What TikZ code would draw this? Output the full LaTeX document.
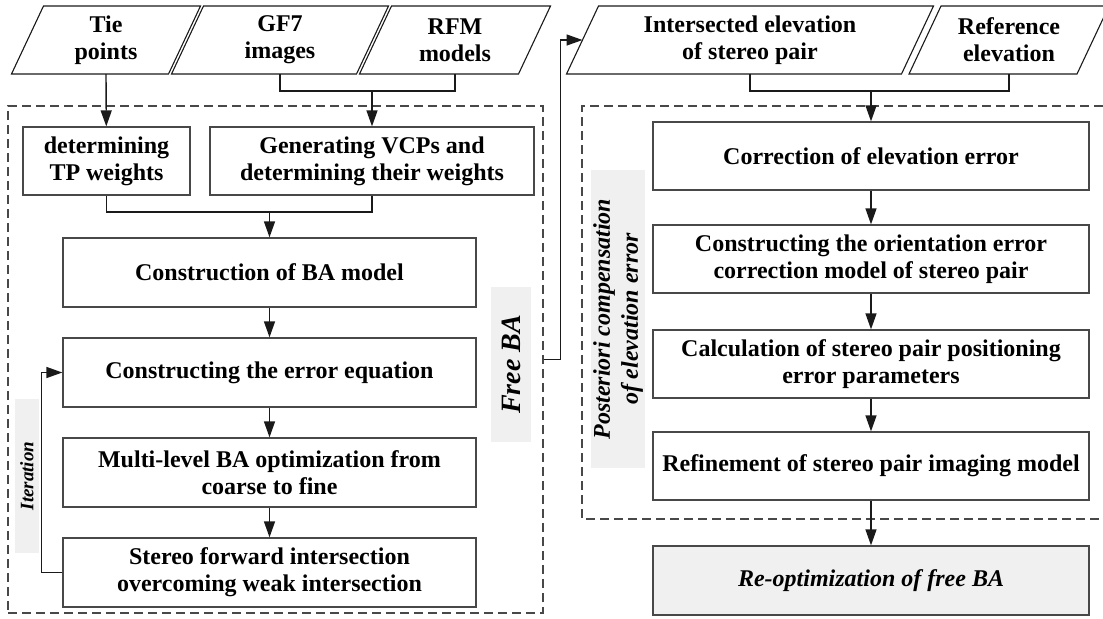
\documentclass[tikz,border=0pt]{standalone}
\usepackage{fontspec}
\setmainfont{Liberation Serif}
\usetikzlibrary{arrows.meta}

\definecolor{edgegray}{HTML}{484848}
\definecolor{fillgray}{HTML}{F0F0F0}
\definecolor{linedark}{HTML}{1A1A1A}

\tikzset{
 procbox/.style={draw=edgegray, line width=0.65pt, fill=white, align=center,
   inner sep=2pt, font=\fontsize{12}{13.5}\selectfont\bfseries},
 databox/.style={draw=linedark, line width=0.55pt},
 datatext/.style={align=center, inner sep=0pt, font=\fontsize{12}{13.5}\selectfont\bfseries},
 groupframe/.style={draw=edgegray, line width=0.55pt, dash pattern=on 4.5pt off 2.5pt},
 tagbox/.style={fill=fillgray, rotate=90, inner sep=0pt, align=center},
 link/.style={draw=linedark, line width=0.7pt},
 flow/.style={link, -{Triangle[length=8pt,width=5.5pt]}},
}

\begin{document}
\begin{tikzpicture}[x=0.5pt, y=-0.5pt]
\useasboundingbox (0,0) rectangle (1103,618);

\newcommand{\datain}[4] % [name][x][width][text]
{
 \draw[databox] ({#2-#3/2-16},74) -- ++(#3,0) -- ++(32,-68) -- ++(-#3,0) -- cycle;
 \node[datatext] (#1) at (#2,40) {#4};
 \coordinate (#1-b) at (#2,74);
 \coordinate (#1-w) at ({#2-#3/2},40);
}

\def\lw{206.5pt} \def\rw{218pt}
\def\bh{34.5pt}

% inputs
\datain{tie}{106}{157}{Tie\\points}
\datain{gf7}{280}{185}{GF7\\images}
\datain{rfm}{455}{159}{RFM\\models}
\datain{inter}{750}{335}{Intersected elevation\\of stereo pair}
\datain{refel}{1009}{168}{Reference\\elevation}

% frames and tags
\node[groupframe, minimum width=267.5pt, minimum height=253.5pt] (freeframe) at (275.5,359.5) {};
\draw[groupframe] (1103,106) -| (582,519) -- (1103,519);

\node[tagbox, minimum width=77pt, minimum height=12pt,
  font=\fontsize{9.5}{11}\selectfont\bfseries\itshape] (itertag) at (27,476) {Iteration};
\node[tagbox, minimum width=77.5pt, minimum height=20pt,
  font=\fontsize{14}{16}\selectfont\bfseries\itshape] (freetag) at (511,364.5) {Free BA};
\node[tagbox, minimum width=149pt, minimum height=27pt,
  font=\fontsize{12}{14}\selectfont\bfseries\itshape] (posttag) at (618,319)
  {Posteriori compensation\\of elevation error};

% free BA
\node[procbox, minimum width=83.5pt, minimum height=34pt] (tpw) at (106.5,161) {determining\\TP weights};
\node[procbox, minimum width=162pt, minimum height=34pt] (vcp) at (372,161) {Generating VCPs and\\determining their weights};
\node[procbox, minimum width=\lw, minimum height=\bh] (bamodel) at (269.5,272.5) {Construction of BA model};
\node[procbox, minimum width=\lw, minimum height=\bh] (erreq) at (269.5,372.5) {Constructing the error equation};
\node[procbox, minimum width=\lw, minimum height=\bh] (multi) at (269.5,472.5) {Multi-level BA optimization from\\coarse to fine};
\node[procbox, minimum width=\lw, minimum height=\bh] (fwdint) at (269.5,572.5) {Stereo forward intersection\\overcoming weak intersection};

% posteriori compensation
\node[procbox, minimum width=\rw, minimum height=34pt] (elevcorr) at (871,156) {Correction of elevation error};
\node[procbox, minimum width=\rw, minimum height=34pt] (orient) at (871,259) {Constructing the orientation error\\correction model of stereo pair};
\node[procbox, minimum width=\rw, minimum height=34pt] (calc) at (871,364) {Calculation of stereo pair positioning\\error parameters};
\node[procbox, minimum width=\rw, minimum height=34pt] (refine) at (871,466) {Refinement of stereo pair imaging model};
\node[procbox, minimum width=\rw, minimum height=\bh, fill=fillgray,
  font=\fontsize{12}{13.5}\selectfont\bfseries\itshape] (reopt) at (871,580.5) {Re-optimization of free BA};

% connectors
\coordinate (imgjoin) at (372,91);
\coordinate (wjoin) at (269.5,212);
\coordinate (eljoin) at (871,91);

\draw[flow] (tie-b) -- (tpw);
\draw[link] (gf7-b) |- (imgjoin) -| (rfm-b);
\draw[flow] (imgjoin) -- (vcp);
\draw[link] (tpw.south) |- (wjoin) -| (vcp.south);
\draw[flow] (wjoin) -- (bamodel);
\draw[flow] (bamodel) -- (erreq);
\draw[flow] (erreq) -- (multi);
\draw[flow] (multi) -- (fwdint);
\draw[flow] (fwdint.west) -- ++(-21,0) |- (erreq.west);
\draw[flow] (freeframe.east) -- ++(17,0) |- (inter-w);

\draw[link] (inter-b) |- (eljoin) -| (refel-b);
\draw[flow] (eljoin) -- (elevcorr);
\draw[flow] (elevcorr) -- (orient);
\draw[flow] (orient) -- (calc);
\draw[flow] (calc) -- (refine);
\draw[flow] (refine) -- (reopt);

\end{tikzpicture}
\end{document}
